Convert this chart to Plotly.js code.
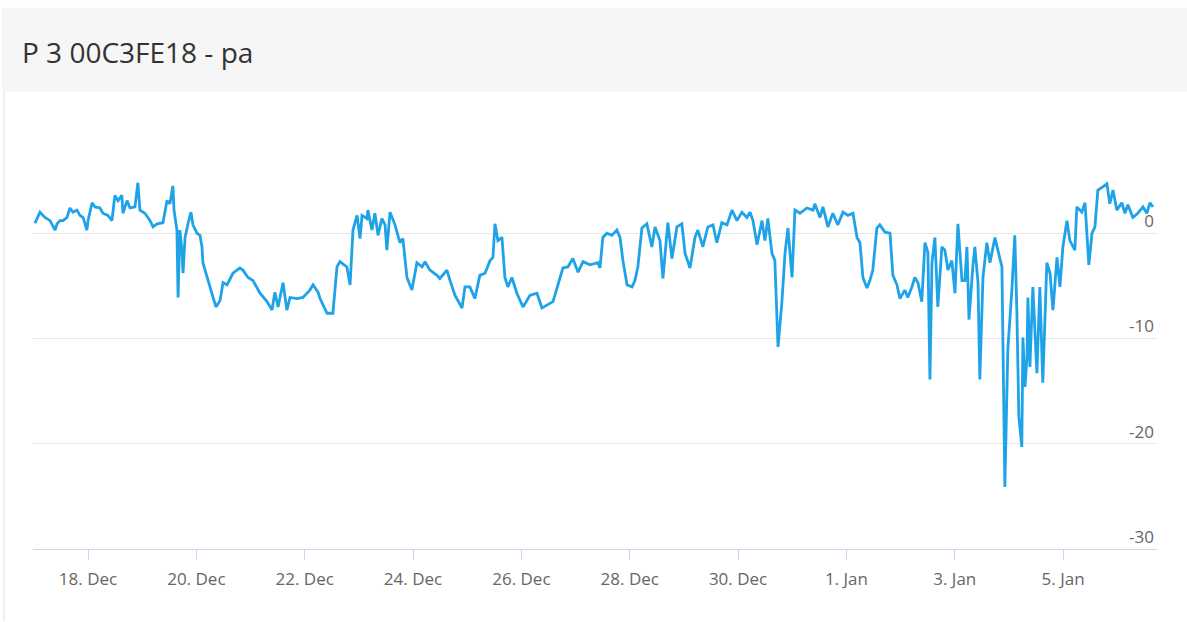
<!DOCTYPE html>
<html>
<head>
<meta charset="utf-8">
<script src="https://cdn.plot.ly/plotly-3.0.1.min.js"></script>
<style>
  html, body { margin: 0; padding: 0; background: #ffffff; }
  #chart { width: 1187px; height: 622px; }
</style>
</head>
<body>
<div id="chart"></div>
<script>
// ---- data ----
const chartTitle = "P 3 00C3FE18 - pa";
const seriesStart = "2018-12-17T00:00:00Z";   // time origin of the readings
// hours after seriesStart
const hoursSinceStart = [
  0.5, 2.7, 4.9, 7.2, 9.4, 10.3, 11.6, 12.9, 14.7, 16.0, 17.3, 19.1, 20.4, 21.8, 23.5,
  24.0, 25.8, 27.1, 29.3, 30.6, 32.8, 34.6, 35.9, 37.3, 39.0, 39.5, 41.3, 42.6, 44.8, 46.1,
  47.0, 49.2, 51.5, 52.8, 54.6, 57.2, 59.0, 60.3, 61.6, 62.1, 63.4, 63.9, 64.7, 65.6, 66.1,
  67.0, 68.3, 69.6, 70.5, 72.3, 73.6, 74.5, 74.9, 76.7, 78.0, 79.4, 80.7, 82.5, 83.8, 85.6,
  88.2, 91.3, 92.6, 94.9, 97.1, 100.2, 103.3, 105.5, 106.8, 108.2, 110.4, 112.1, 113.5, 116.6, 119.2,
  122.3, 123.7, 125.9, 126.8, 129.9, 132.5, 134.3, 135.6, 138.7, 140.1, 141.4, 143.2, 144.5, 145.4, 147.6,
  148.0, 149.8, 151.1, 152.5, 154.2, 155.6, 156.4, 157.8, 160.0, 162.2, 163.5, 165.3, 167.5, 169.7, 172.0,
  173.3, 175.5, 178.6, 179.9, 183.0, 184.4, 186.6, 189.7, 191.0, 193.2, 195.4, 197.6, 199.9, 202.1, 203.4,
  204.3, 205.6, 207.4, 208.7, 210.0, 211.8, 214.0, 216.7, 219.8, 222.9, 225.1, 227.8, 230.0, 232.2, 234.4,
  236.6, 238.8, 241.1, 243.3, 246.4, 249.9, 250.8, 252.1, 253.9, 256.1, 258.3, 259.7, 261.0, 262.8, 265.0,
  266.3, 267.6, 269.4, 271.6, 273.8, 275.2, 277.4, 278.7, 280.9, 282.7, 284.9, 287.1, 288.5, 290.7, 292.9,
  294.2, 296.4, 298.6, 300.9, 302.6, 304.8, 307.1, 309.3, 311.5, 313.7, 315.9, 317.3, 318.6, 320.4, 322.6,
  323.9, 325.2, 327.0, 328.3, 329.7, 331.4, 332.8, 334.1, 335.9, 337.2, 339.4, 342.5, 345.2, 346.0, 348.3,
  349.6, 351.8, 354.0, 356.2, 358.5, 360.7, 362.9, 364.7, 366.0, 367.3, 369.1, 370.4, 371.7, 373.5, 374.8,
  377.1, 379.3, 380.6, 382.4, 383.7, 385.9, 387.2, 389.0, 390.3, 391.7, 393.4, 394.8, 396.1, 397.0, 397.9,
  399.2, 400.5, 402.3, 403.6, 405.0, 406.7, 408.1, 409.4, 411.2, 412.5, 413.4, 414.3, 416.0, 416.9, 418.3,
  419.1, 420.5, 422.2, 423.6, 425.8, 427.1, 428.9, 430.2, 431.5, 433.3, 434.6, 435.5, 436.4, 437.7, 438.2,
  439.1, 440.0, 440.4, 441.3, 442.6, 444.4, 445.7, 447.0, 448.8, 450.2, 451.5, 453.3, 454.6, 455.9, 457.7,
  459.0, 461.2, 462.1, 464.3, 465.7, 467.4, 468.8, 470.1, 471.4, 473.6, 475.4, 476.7, 478.1, 479.8, 482.0,
  483.4, 484.7, 486.9, 489.1, 491.4, 493.1, 494.5, 495.8
];
// pressure, pa
const pressurePa = [
  0.95, 2.0, 1.5, 1.2, 0.3, 0.9, 1.2, 1.2, 1.5, 2.4, 2.0, 2.2, 1.7, 1.5, 0.3,
  1.2, 2.9, 2.5, 2.4, 1.9, 1.7, 1.2, 3.6, 3.1, 3.6, 1.9, 3.1, 2.4, 2.5, 4.8,
  2.2, 1.9, 1.2, 0.6, 0.9, 1.0, 3.1, 2.8, 4.5, 2.2, 0.3, -6.1, 0.3, -1.6, -3.8,
  -0.4, 0.9, 2.0, 0.8, 0.0, -0.2, -1.3, -2.8, -4.2, -5.1, -6.1, -7.0, -6.4, -4.7, -4.9,
  -3.8, -3.3, -3.5, -4.2, -4.5, -5.7, -6.5, -7.3, -5.6, -7.0, -4.7, -7.3, -6.1, -6.2, -6.1,
  -5.4, -4.9, -5.6, -6.2, -7.6, -7.6, -3.2, -2.7, -3.2, -4.9, 0.3, 1.7, -0.5, 1.7, 1.4,
  2.2, 0.3, 1.9, -0.2, 1.4, 0.8, -1.6, 2.0, 0.8, -0.9, -0.5, -4.2, -5.4, -2.8, -3.2,
  -2.7, -3.5, -4.0, -4.3, -3.5, -4.5, -5.9, -7.1, -5.1, -5.1, -6.2, -4.0, -3.8, -2.6, -2.3,
  0.9, -0.7, -0.4, -4.2, -5.1, -4.2, -5.7, -7.0, -5.9, -5.7, -7.1, -6.8, -6.5, -4.9, -3.3,
  -3.2, -2.4, -3.7, -2.7, -3.0, -2.8, -3.3, -0.4, 0.0, -0.2, 0.3, -0.4, -2.6, -4.9, -5.1,
  -4.5, -3.2, 0.5, 0.9, -1.3, 0.6, -0.7, -4.3, 1.0, -2.4, 0.6, 0.9, -1.9, -3.3, -0.4,
  0.3, -1.3, 0.6, 0.8, -0.9, 1.0, 0.8, 2.2, 1.2, 2.0, 1.5, 2.0, 1.2, -1.1, 1.2,
  -0.7, 1.4, -1.9, -2.6, -10.8, -6.6, -1.9, 0.5, -4.2, 2.2, 1.9, 2.4, 2.2, 2.8, 1.5,
  2.5, 0.6, 1.9, 0.8, 2.0, 1.7, 1.9, -0.4, -0.9, -4.2, -5.2, -4.5, -3.5, 0.5, 0.8,
  0.1, 0.0, -4.0, -4.9, -6.2, -5.4, -6.1, -5.1, -4.2, -4.7, -6.5, -0.9, -1.8, -13.9, -2.8,
  -0.4, -7.0, -1.3, -1.6, -3.5, -2.6, -5.7, 0.9, -4.5, -4.5, -1.3, -8.2, -3.2, -1.3, -4.7,
  -13.9, -4.2, -0.9, -2.8, -0.4, -1.6, -3.2, -24.1, -11.1, -5.4, -0.2, -7.3, -17.4, -20.3, -9.9,
  -14.6, -11.8, -6.1, -12.7, -5.1, -13.3, -5.1, -14.2, -2.8, -3.8, -7.3, -2.3, -5.1, -1.3, 1.2,
  -0.7, -1.6, 2.5, 2.0, 2.9, -3.0, 0.0, 0.6, 4.1, 4.4, 4.7, 2.8, 4.1, 2.2, 2.9,
  1.9, 2.7, 1.5, 1.9, 2.5, 1.9, 2.9, 2.5
];
const yTickValues = [-30, -20, -10, 0, 10];
const yTickLabels = ["-30", "-20", "-10", "0", ""];
const xRangeHours = [-0.37, 497.6];
const firstXTick = "2018-12-18";

// ---- build ----
const t0 = Date.parse(seriesStart);
const xs = hoursSinceStart.map(h => t0 + h * 3600000);
const xRange = xRangeHours.map(h => t0 + h * 3600000);

const W = 1187, H = 622;
const L = 33, R = 30, T = 127.5, B = 72.5;
const pw = W - L - R, ph = H - T - B;
const px = p => (p - L) / pw;            // page pixel -> paper x
const py = p => (H - B - p) / ph;        // page pixel -> paper y

const trace = {
  type: "scatter",
  mode: "lines",
  x: xs,
  y: pressurePa,
  line: { color: "#1ea2e8", width: 2.8 },
  hoverinfo: "x+y"
};

const layout = {
  width: W, height: H,
  margin: { l: L, r: R, t: T, b: B, pad: 0 },
  paper_bgcolor: "#ffffff",
  plot_bgcolor: "rgba(0,0,0,0)",
  showlegend: false,
  font: { family: "Open Sans, sans-serif", color: "#666666", size: 17 },
  title: {
    text: chartTitle,
    xref: "container", yref: "container",
    x: 22 / W, xanchor: "left",
    y: 1 - 53 / H, yanchor: "middle",
    font: { family: "Open Sans, sans-serif", size: 28, color: "#333333" }
  },
  xaxis: {
    type: "date",
    range: xRange,
    tick0: firstXTick,
    dtick: 2 * 86400000,
    tickformat: "%-d. %b",
    showgrid: false,
    zeroline: false,
    showline: true,
    linecolor: "#ccd6eb",
    linewidth: 1,
    ticks: "outside",
    ticklen: 10,
    tickcolor: "#ccd6eb",
    tickwidth: 1,
    ticklabelstandoff: 5,
    tickfont: { size: 17, color: "#666666" }
  },
  yaxis: {
    range: [-30, 10],
    side: "right",
    tickmode: "array",
    tickvals: yTickValues,
    ticktext: yTickLabels,
    ticklabelposition: "inside",
    ticklabelshift: -12,
    ticks: "",
    showgrid: true,
    gridcolor: "#e6e6e6",
    gridwidth: 1,
    zeroline: false,
    showline: false,
    tickfont: { size: 17, color: "#666666" }
  },
  shapes: [
    { type: "rect", xref: "paper", yref: "paper", layer: "below",
      x0: px(2), x1: px(1187), y0: py(91), y1: py(7),
      fillcolor: "#f6f6f6", line: { width: 0 } },
    { type: "line", xref: "paper", yref: "paper", layer: "below",
      x0: px(4), x1: px(4), y0: py(91), y1: py(622),
      line: { color: "#f1f1f1", width: 2 } }
  ]
};

Plotly.newPlot("chart", [trace], layout, { displayModeBar: false, staticPlot: true });
</script>
</body>
</html>
